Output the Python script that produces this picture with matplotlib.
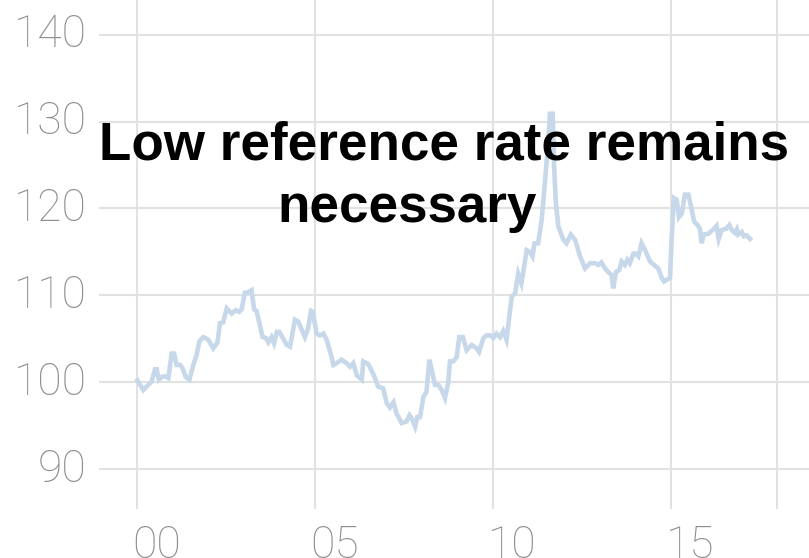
import matplotlib
matplotlib.use("Agg")
import matplotlib.pyplot as plt
from matplotlib.transforms import ScaledTranslation

# Index level over time (decimal years)
years = [
    2000.00, 2000.16, 2000.30, 2000.40, 2000.49, 2000.54, 2000.60, 2000.68, 2000.77, 2000.87,
    2000.96, 2001.03, 2001.10, 2001.20, 2001.27, 2001.36, 2001.46, 2001.57, 2001.66, 2001.74,
    2001.85, 2001.99, 2002.13, 2002.25, 2002.32, 2002.41, 2002.51, 2002.58, 2002.65, 2002.77,
    2002.86, 2002.93, 2003.02, 2003.09, 2003.21, 2003.28, 2003.35, 2003.52, 2003.61, 2003.68,
    2003.77, 2003.84, 2003.92, 2003.99, 2004.20, 2004.29, 2004.43, 2004.52, 2004.71, 2004.80,
    2004.88, 2004.93, 2005.04, 2005.13, 2005.23, 2005.32, 2005.46, 2005.51, 2005.60, 2005.74,
    2005.88, 2005.98, 2006.07, 2006.17, 2006.31, 2006.35, 2006.49, 2006.65, 2006.77, 2006.91,
    2007.01, 2007.10, 2007.20, 2007.29, 2007.43, 2007.57, 2007.65, 2007.71, 2007.81, 2007.87,
    2007.95, 2008.04, 2008.13, 2008.21, 2008.28, 2008.37, 2008.46, 2008.56, 2008.65, 2008.74,
    2008.79, 2008.88, 2008.98, 2009.05, 2009.15, 2009.26, 2009.40, 2009.54, 2009.61, 2009.73,
    2009.82, 2009.92, 2010.01, 2010.10, 2010.20, 2010.29, 2010.38, 2010.53, 2010.62, 2010.71,
    2010.80, 2010.95, 2011.04, 2011.11, 2011.17, 2011.27, 2011.37, 2011.46, 2011.56, 2011.60,
    2011.68, 2011.72, 2011.77, 2011.84, 2011.98, 2012.07, 2012.19, 2012.31, 2012.45, 2012.59,
    2012.73, 2012.87, 2012.96, 2013.05, 2013.15, 2013.24, 2013.34, 2013.38, 2013.46, 2013.55,
    2013.62, 2013.71, 2013.78, 2013.85, 2013.95, 2014.02, 2014.09, 2014.18, 2014.28, 2014.42,
    2014.56, 2014.65, 2014.75, 2014.81, 2014.89, 2014.98, 2015.03, 2015.09, 2015.17, 2015.23,
    2015.31, 2015.40, 2015.50, 2015.66, 2015.75, 2015.82, 2015.87, 2015.93, 2016.06, 2016.20,
    2016.29, 2016.35, 2016.43, 2016.57, 2016.65, 2016.72, 2016.81, 2016.86, 2016.90, 2017.00,
    2017.06, 2017.14, 2017.23,
]
index_values = [
    100.2, 99.1, 99.7, 100.1, 101.5, 101.5, 100.3, 100.6, 100.7, 100.5,
    103.3, 103.3, 102.0, 102.0, 101.6, 100.6, 100.3, 102.0, 103.1, 104.7,
    105.2, 104.9, 103.9, 104.6, 106.8, 106.9, 108.5, 108.2, 107.9, 108.3,
    108.1, 108.4, 110.3, 110.3, 110.6, 108.4, 108.2, 105.2, 105.1, 104.6,
    105.2, 104.5, 105.8, 105.8, 104.3, 104.1, 107.2, 107.0, 105.2, 106.2,
    108.2, 108.1, 105.6, 105.4, 105.6, 104.9, 102.9, 102.0, 102.2, 102.6,
    102.2, 101.8, 102.2, 100.8, 100.3, 102.4, 102.1, 100.8, 99.5, 99.3,
    97.6, 97.1, 97.7, 96.4, 95.3, 95.5, 96.2, 95.9, 94.9, 96.0,
    96.0, 98.3, 98.9, 102.6, 101.4, 99.7, 99.7, 99.1, 98.2, 99.9,
    102.4, 102.4, 102.9, 105.2, 105.2, 103.7, 104.3, 103.9, 103.5, 105.1,
    105.4, 105.4, 105.1, 105.6, 105.2, 105.9, 104.9, 109.9, 110.2, 112.5,
    111.4, 115.2, 115.0, 114.5, 116.0, 116.0, 118.7, 122.9, 127.9, 130.9,
    130.9, 124.8, 120.6, 117.9, 116.4, 116.0, 117.0, 116.4, 114.5, 113.1,
    113.7, 113.7, 113.5, 113.8, 113.1, 112.7, 112.3, 110.8, 112.7, 112.9,
    113.9, 113.5, 114.1, 113.7, 114.8, 114.8, 114.5, 116.0, 115.2, 113.9,
    113.4, 113.1, 112.0, 111.6, 111.8, 112.0, 116.8, 121.2, 121.0, 119.0,
    119.4, 121.6, 121.6, 118.5, 118.1, 117.7, 116.0, 117.0, 117.1, 117.6,
    118.0, 116.5, 117.5, 117.7, 118.1, 117.5, 117.2, 117.6, 117.0, 117.3,
    116.8, 116.9, 116.5,
]

x_ticks = [2000, 2005, 2010, 2015, 2018]
x_tick_labels = ["00", "05", "10", "15", ""]
y_ticks = [90, 100, 110, 120, 130, 140]
y_tick_labels = ["90", "100", "110", "120", "130", "140"]

title_line1 = "Low reference rate remains"
title_line2 = "necessary"

fig = plt.figure(figsize=(8.09, 5.58), dpi=100)
ax = fig.add_axes([99 / 809, 1 - 509 / 558, 1 - 99 / 809, 509 / 558])

ax.plot(years, index_values, color="#c6d8e9", linewidth=3.3,
        solid_joinstyle="miter", zorder=3)

ax.set_xlim(1998.917, 2018.89)
ax.set_ylim(85.42, 143.99)

ax.set_xticks(x_ticks)
ax.set_xticklabels(x_tick_labels)
ax.set_yticks(y_ticks)
ax.set_yticklabels(y_tick_labels)

for s in ax.spines.values():
    s.set_visible(False)

ax.grid(True, color="#e2e2e2", linewidth=1.5, zorder=0)
ax.set_axisbelow(True)
ax.tick_params(axis="both", length=0, colors="#8e8e8e", labelsize=32)
ax.tick_params(axis="y", pad=9)
ax.tick_params(axis="x", pad=11)

x_shift = ScaledTranslation(-5 / 100, 0, fig.dpi_scale_trans)
y_shift = ScaledTranslation(0, 4 / 100, fig.dpi_scale_trans)
for lab in ax.get_xticklabels():
    lab.set_fontfamily("Roboto")
    lab.set_fontweight("light")
    lab.set_horizontalalignment("left")
    lab.set_transform(lab.get_transform() + x_shift)
for lab in ax.get_yticklabels():
    lab.set_fontfamily("Roboto")
    lab.set_fontweight("light")
    lab.set_transform(lab.get_transform() + y_shift)

fig.text(444 / 809, 1 - 160 / 558, title_line1, ha="center", va="baseline",
         fontsize=38.2, fontweight="bold", family="Liberation Sans", color="black",
         zorder=5)
fig.text(407.5 / 809, 1 - 221.7 / 558, title_line2, ha="center", va="baseline",
         fontsize=38.2, fontweight="bold", family="Liberation Sans", color="black",
         zorder=5)

fig.savefig("out.png", dpi=100)
